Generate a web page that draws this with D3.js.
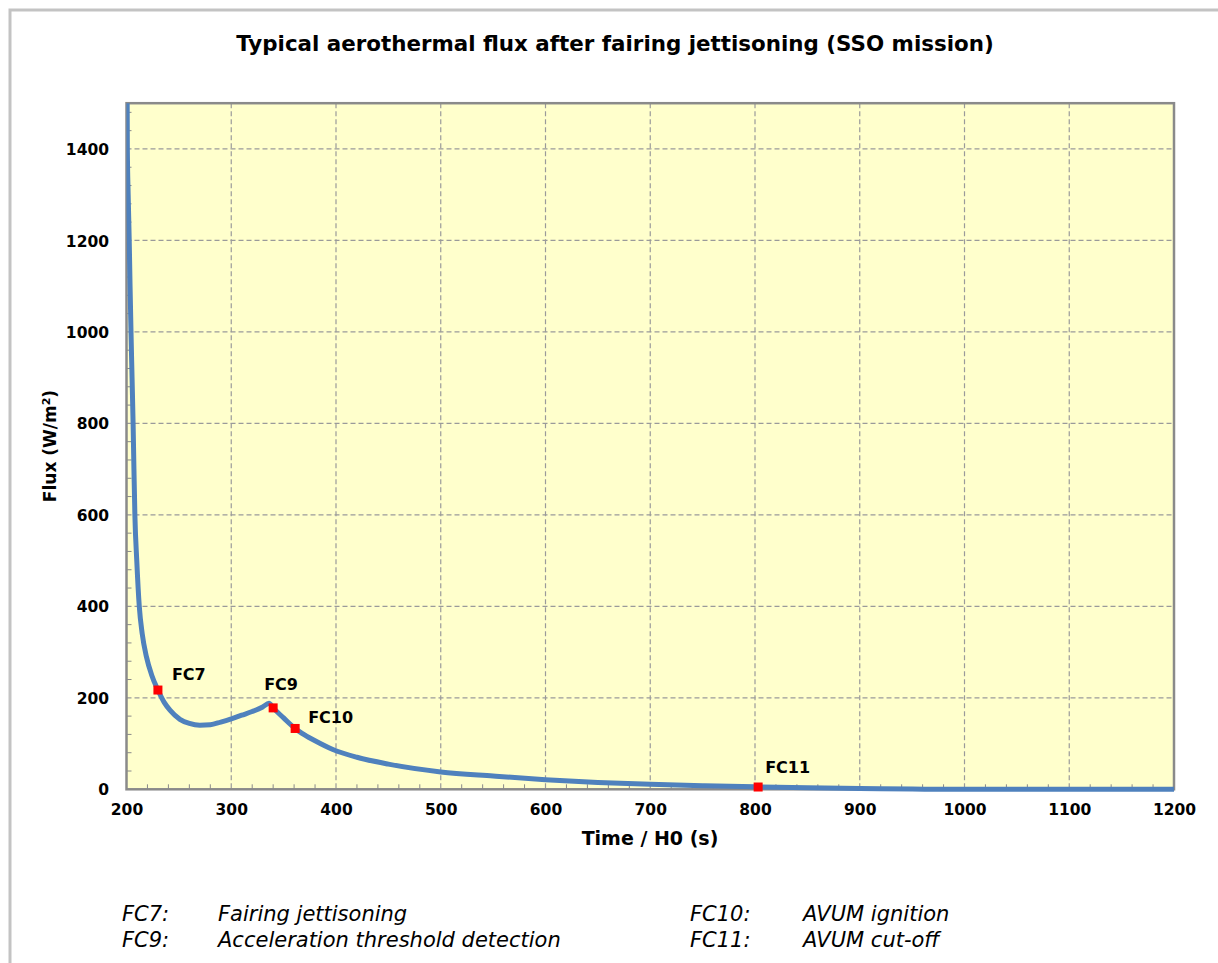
<!DOCTYPE html>
<html>
<head>
<meta charset="utf-8">
<script src="https://cdn.jsdelivr.net/npm/d3@7"></script>
<style>
  body { margin: 0; background: #fff; }
  svg { display: block; }
</style>
</head>
<body>
<script>
// Aerothermal flux profile (W/m²) versus time from H0 (s)
const timeS = [200.5, 200.8, 201.6, 202.6, 203.4, 204.3, 205.3, 206.3, 207.1, 208.0, 209.8, 212.2, 215.0, 219.0, 224.0,
  230, 236, 241.5, 251, 260, 270, 280, 290, 300, 310, 320, 330, 336, 340, 350, 361, 370, 380, 397, 420, 450,
  500, 550, 600, 650, 700, 750, 800, 850, 900, 950, 1000, 1100, 1200];
const fluxW = [1600, 1400, 1300, 1200, 1100, 1000, 900, 800, 700, 600, 500, 400, 340, 290, 250,
  217, 190, 173, 153, 144, 140, 141, 147, 154, 162, 170, 180, 188, 178, 156, 133, 119, 106, 87, 70, 55,
  38, 29, 21, 15, 11, 8, 5.5, 3.5, 2, 0.5, 0, 0, 0];

// Flight events marked on the curve
const eventCodes = ["FC7", "FC9", "FC10", "FC11"];
const eventTime = [230, 340, 361, 803];
const eventFlux = [217, 178, 133, 5];
const eventNames = ["Fairing jettisoning", "Acceleration threshold detection", "AVUM ignition", "AVUM cut-off"];

const xTicks = [200, 300, 400, 500, 600, 700, 800, 900, 1000, 1100, 1200];
const yTicks = [0, 200, 400, 600, 800, 1000, 1200, 1400];

const W = 1218, H = 963;
const plot = { left: 126.5, right: 1174, top: 103.2, bottom: 789.3 };
const FONT = "'DejaVu Sans', Verdana, sans-serif";

const svg = d3.select("body").append("svg").attr("width", W).attr("height", H);

// outer frame
svg.append("rect").attr("x", 10).attr("y", 10).attr("width", W + 20).attr("height", H + 20)
  .attr("fill", "none").attr("stroke", "#c3c3c3").attr("stroke-width", 3);

const x = d3.scaleLinear().domain([200, 1200]).range([plot.left, plot.right]);
const y = d3.scaleLinear().domain([0, 1500]).range([plot.bottom, plot.top]);

// title
svg.append("text").attr("x", 615).attr("y", 51).attr("text-anchor", "middle")
  .attr("font-family", FONT).attr("font-weight", "bold").attr("font-size", 21.4).attr("fill", "#000")
  .text("Typical aerothermal flux after fairing jettisoning (SSO mission)");

// plot background
svg.append("rect").attr("x", plot.left).attr("y", plot.top)
  .attr("width", plot.right - plot.left).attr("height", plot.bottom - plot.top)
  .attr("fill", "#ffffcc");

// grid
const grid = svg.append("g").attr("stroke", "#9a9a9a").attr("stroke-width", 1.2).attr("stroke-dasharray", "5,3");
grid.selectAll("line.gx").data(xTicks.slice(1, -1)).join("line")
  .attr("x1", d => x(d)).attr("x2", d => x(d)).attr("y1", plot.top).attr("y2", plot.bottom);
grid.selectAll("line.gy").data(yTicks.slice(1)).join("line")
  .attr("x1", plot.left).attr("x2", plot.right).attr("y1", d => y(d)).attr("y2", d => y(d));

// minor ticks on inner side of the axes
const minorX = d3.range(220, 1200, 20).filter(v => v % 100 !== 0);
const minorY = d3.range(40, 1500, 40).filter(v => v % 200 !== 0);
const ticks = svg.append("g").attr("stroke", "#8a8a8a").attr("stroke-width", 1);
ticks.selectAll("line.mx").data(minorX).join("line")
  .attr("x1", d => x(d)).attr("x2", d => x(d)).attr("y1", plot.bottom).attr("y2", plot.bottom - 5);
ticks.selectAll("line.my").data(minorY).join("line")
  .attr("x1", plot.left).attr("x2", plot.left + 5).attr("y1", d => y(d)).attr("y2", d => y(d));

// flux curve, clipped to the plot area
svg.append("clipPath").attr("id", "plotClip").append("rect")
  .attr("x", plot.left).attr("y", plot.top)
  .attr("width", plot.right - plot.left).attr("height", plot.bottom - plot.top + 3);

const pts = timeS.map((t, i) => [t, fluxW[i]]);
const line = d3.line().x(d => x(d[0])).y(d => y(d[1])).curve(d3.curveMonotoneX);

// plot frame
svg.append("rect").attr("x", plot.left).attr("y", plot.top)
  .attr("width", plot.right - plot.left).attr("height", plot.bottom - plot.top)
  .attr("fill", "none").attr("stroke", "#8a8a8a").attr("stroke-width", 2.5);

svg.append("path").datum(pts).attr("d", line).attr("clip-path", "url(#plotClip)")
  .attr("fill", "none").attr("stroke", "#4f81bd").attr("stroke-width", 5)
  .attr("stroke-linejoin", "round").attr("stroke-linecap", "round");

// axes tick labels
const fmt = d3.format("d");
const xAxis = d3.axisBottom(x).tickValues(xTicks).tickFormat(fmt).tickSize(0).tickPadding(0);
const gx = svg.append("g").attr("transform", `translate(0,${plot.bottom + 26})`).call(xAxis);
gx.select(".domain").remove();
gx.selectAll("text").attr("dy", 0).attr("y", 0)
  .attr("font-family", FONT).attr("font-weight", "bold").attr("font-size", 15.5).attr("fill", "#000");

const yAxis = d3.axisLeft(y).tickValues(yTicks).tickFormat(fmt).tickSize(0).tickPadding(0);
const gy = svg.append("g").attr("transform", `translate(109,0)`).call(yAxis);
gy.select(".domain").remove();
gy.selectAll("text").attr("x", 0).attr("dy", "0.36em")
  .attr("font-family", FONT).attr("font-weight", "bold").attr("font-size", 15.5).attr("fill", "#000");

// axis titles
svg.append("text").attr("x", 650).attr("y", 845).attr("text-anchor", "middle")
  .attr("font-family", FONT).attr("font-weight", "bold").attr("font-size", 19).attr("fill", "#000")
  .text("Time / H0 (s)");

const yTitle = svg.append("text").attr("transform", "translate(56,446) rotate(-90)")
  .attr("text-anchor", "middle").attr("font-family", FONT).attr("font-weight", "bold")
  .attr("font-size", 17).attr("fill", "#000");
yTitle.append("tspan").text("Flux (W/m");
yTitle.append("tspan").attr("dy", -6).attr("font-size", 11).text("2");
yTitle.append("tspan").attr("dy", 6).text(")");

// event markers and labels
const labelShift = { FC7: [14, -10], FC9: [-9, -18], FC10: [13, -5], FC11: [7, -14] };
const ev = svg.append("g");
ev.selectAll("rect").data(eventCodes).join("rect")
  .attr("x", (d, i) => x(eventTime[i]) - 4.5).attr("y", (d, i) => y(eventFlux[i]) - 4.5)
  .attr("width", 9).attr("height", 9).attr("fill", "#ff0000");
ev.selectAll("text").data(eventCodes).join("text")
  .attr("x", (d, i) => x(eventTime[i]) + labelShift[d][0])
  .attr("y", (d, i) => y(eventFlux[i]) + labelShift[d][1])
  .attr("font-family", FONT).attr("font-weight", "bold").attr("font-size", 16).attr("fill", "#000")
  .text(d => d);

// event legend below the chart (two columns)
const legend = svg.append("g").attr("font-family", FONT).attr("font-style", "italic")
  .attr("font-size", 21).attr("fill", "#000");
const colX = [[122, 218], [690, 803]];
const rowY = [921, 947];
eventCodes.forEach((code, i) => {
  const col = i < 2 ? 0 : 1, row = i % 2;
  legend.append("text").attr("x", colX[col][0]).attr("y", rowY[row]).text(code + ":");
  legend.append("text").attr("x", colX[col][1]).attr("y", rowY[row]).text(eventNames[i]);
});
</script>
</body>
</html>
